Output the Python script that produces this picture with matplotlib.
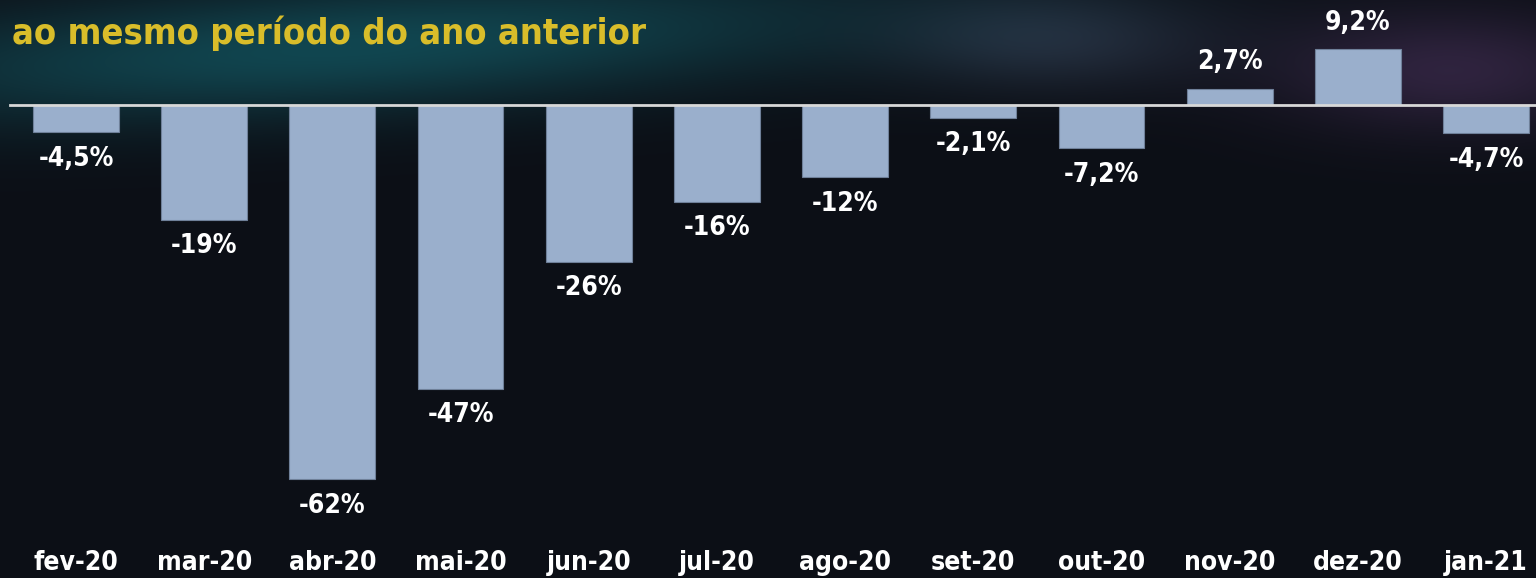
import matplotlib.pyplot as plt
import numpy as np

# dados
meses = ["fev-20", "mar-20", "abr-20", "mai-20", "jun-20", "jul-20",
         "ago-20", "set-20", "out-20", "nov-20", "dez-20", "jan-21"]
variacao = [-4.5, -19, -62, -47, -26, -16, -12, -2.1, -7.2, 2.7, 9.2, -4.7]

titulo = "ao mesmo período do ano anterior"

plt.rcParams["font.family"] = ["DejaVu Sans"]
plt.rcParams["font.stretch"] = "condensed"

W, H = 1536, 578
fig = plt.figure(figsize=(W / 100, H / 100), dpi=100)

# fundo escuro com brilho verde-azulado e roxo
yy, xx = np.mgrid[0:H, 0:W]
bg = np.zeros((H, W, 3))
bg[:] = np.array([12, 15, 22]) / 255
band_y = 50 - (xx - 300) * 0.06
teal = np.exp(-((xx - 350) / 520) ** 2 - ((yy - band_y) / 65) ** 2)
bg += teal[..., None] * np.array([5, 55, 58]) / 255
purple = np.exp(-((xx - 1450) / 180) ** 2 - ((yy - 70) / 60) ** 2)
bg += purple[..., None] * np.array([35, 20, 40]) / 255
grey = np.exp(-((xx - 1050) / 160) ** 2 - ((yy - 40) / 50) ** 2)
bg += grey[..., None] * np.array([22, 26, 34]) / 255
bg = np.clip(bg, 0, 1)

ax_bg = fig.add_axes([0, 0, 1, 1], zorder=0)
ax_bg.imshow(bg, aspect="auto", extent=[0, 1, 0, 1])
ax_bg.axis("off")

ax = fig.add_axes([0, 36 / H, 1, 1 - 36 / H], zorder=1)
ax.patch.set_alpha(0)

x = np.arange(len(meses))
ax.bar(x, variacao, width=0.67, color="#9aafcc", edgecolor="#6f8099",
       linewidth=0.8, zorder=2)
ax.axhline(0, color="#d8d8d8", linewidth=2, zorder=3, xmin=0.0065)

for xi, v in zip(x, variacao):
    txt = f"{v:.1f}".replace(".", ",") if abs(v) < 10 else f"{v:.0f}"
    off = 19 if v > 0 else -19
    ax.annotate(txt + "%", (xi, v), xytext=(0, off), textcoords="offset points",
                ha="center", va="center", fontsize=19, fontweight="bold",
                color="white", zorder=4)

ax.set_xlim(-0.593, 11.39)
ax.set_ylim(-(542 - 105) / 6.04, 105 / 6.04)
ax.set_xticks(x)
ax.set_xticklabels(meses, fontsize=19, fontweight="bold", color="white")
ax.tick_params(axis="x", length=0, pad=6)
ax.set_yticks([])
for s in ax.spines.values():
    s.set_visible(False)

fig.text(12 / W, 1 - 33 / H, titulo, fontsize=26, fontweight="bold",
         color="#d9bd2a", ha="left", va="center")

fig.savefig("out.png", dpi=100, facecolor="#0c0f16")
